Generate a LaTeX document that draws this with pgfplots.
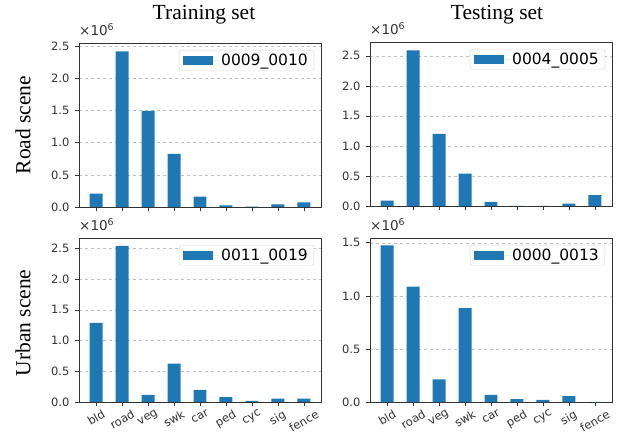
\documentclass[border=0pt]{standalone}
\usepackage{fontspec}
\setmainfont{DejaVu Sans}
\newfontfamily\titlefont{Liberation Serif}
\usepackage{graphicx}
\usepackage{pgfplots}
\pgfplotsset{compat=1.18}

\definecolor{barblue}{HTML}{1F77B4}

\pgfplotsset{
  panel/.style={
    scale only axis, width=242pt, height=164pt, anchor=north west,
    ybar, bar width=0.5, ymin=0, clip=false,
    xmin=-0.66, xmax=8.66, xtick={0,...,8},
    tick pos=left, tick align=outside, major tick length=4pt,
    axis line style={black!80, line width=0.8pt},
    tick style={black!80, line width=0.6pt},
    ymajorgrids, grid style={dashed, black!25, line width=0.5pt},
    ticklabel style={font=\fontsize{11.5}{13}\selectfont, text=black!80},
    scaled y ticks=false,
    yticklabel style={xshift=-2pt, /pgf/number format/.cd, fixed, fixed zerofill, precision=1, assume math mode=true},
    legend style={at={(1,1)}, xshift=-7pt, yshift=-7pt, anchor=north east,
      draw=black!15, rounded corners=2pt, fill=white,
      font=\fontsize{15.5}{17}\selectfont, inner xsep=4pt, inner ysep=1.5pt},
    legend image code/.code={\fill[barblue, sharp corners] (0pt,-4.5pt) rectangle (30pt,4.5pt); \path (0pt,0pt) -- (36pt,0pt);},
    legend cell align=left,
  },
  toprow/.style={xticklabels={}},
  botrow/.style={xticklabels={
    \rotatebox{30}{bld}, \rotatebox{30}{road}, \rotatebox{30}{veg},
    \rotatebox{30}{swk}, \rotatebox{30}{car}, \rotatebox{30}{ped},
    \rotatebox{30}{cyc}, \rotatebox{30}{sig}, \rotatebox{30}{fence}},
    xticklabel style={anchor=north, inner sep=2pt, yshift=-1pt, font=\fontsize{11.5}{13}\selectfont}},
  barplot/.style={fill=barblue, draw=none},
}

\newcommand{\expmark}{\node[anchor=base west, font=\fontsize{13.5}{15}\selectfont, text=black!80, yshift=7pt, inner xsep=0pt]
  at (rel axis cs:0,1) {×10\textsuperscript{6}};}

\begin{document}
\begin{tikzpicture}
\path (0pt,0pt) rectangle (618pt,-435pt);

% column and row titles
\node[font=\titlefont\fontsize{21.5}{23}\selectfont, anchor=base] at (204pt,-20pt) {Training set};
\node[font=\titlefont\fontsize{21.5}{23}\selectfont, anchor=base] at (497pt,-20pt) {Testing set};
\node[font=\titlefont\fontsize{21.5}{23}\selectfont, rotate=90] at (23pt,-125pt) {Road scene};
\node[font=\titlefont\fontsize{21.5}{23}\selectfont, rotate=90] at (23pt,-323pt) {Urban scene};

% training, road scene
\begin{axis}[panel, toprow, at={(79pt,-43pt)}, ymax=2.55, ytick={0,0.5,...,2.5}]
\addplot[barplot] coordinates {(0,0.206) (1,2.42) (2,1.495) (3,0.825) (4,0.16) (5,0.026) (6,0.005) (7,0.04) (8,0.07)};
\addlegendentry{0009\_0010}
\expmark
\end{axis}

% testing, road scene
\begin{axis}[panel, toprow, at={(370pt,-42pt)}, ymax=2.73, ytick={0,0.5,...,2.5}]
\addplot[barplot] coordinates {(0,0.088) (1,2.59) (2,1.20) (3,0.54) (4,0.07) (5,0.003) (6,0.002) (7,0.04) (8,0.18)};
\addlegendentry{0004\_0005}
\expmark
\end{axis}

% training, urban scene
\begin{axis}[panel, botrow, at={(79pt,-238pt)}, ymax=2.67, ytick={0,0.5,...,2.5}]
\addplot[barplot] coordinates {(0,1.29) (1,2.54) (2,0.114) (3,0.625) (4,0.196) (5,0.08) (6,0.02) (7,0.054) (8,0.054)};
\addlegendentry{0011\_0019}
\expmark
\end{axis}

% testing, urban scene
\begin{axis}[panel, botrow, at={(370pt,-238pt)}, ymax=1.545, ytick={0,0.5,1,1.5}]
\addplot[barplot] coordinates {(0,1.476) (1,1.088) (2,0.213) (3,0.884) (4,0.066) (5,0.028) (6,0.019) (7,0.056) (8,0.002)};
\addlegendentry{0000\_0013}
\expmark
\end{axis}
\end{tikzpicture}
\end{document}
